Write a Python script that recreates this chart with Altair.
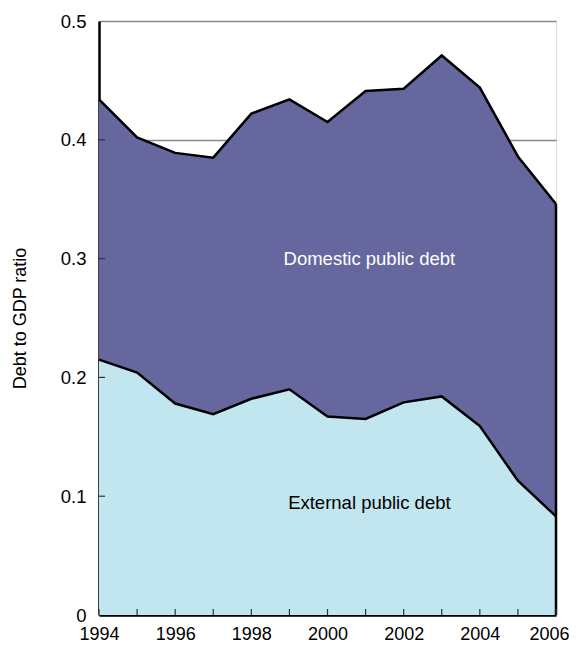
import altair as alt
import pandas as pd

years = list(range(1994, 2007))
external = [0.215, 0.204, 0.178, 0.169, 0.182, 0.190, 0.167, 0.165, 0.179, 0.184, 0.159, 0.113, 0.083]
domestic = [0.219, 0.198, 0.211, 0.216, 0.240, 0.244, 0.248, 0.276, 0.264, 0.287, 0.285, 0.273, 0.263]
y_ticks = [0.0, 0.1, 0.2, 0.3, 0.4, 0.5]
x_labels = [1994, 1996, 1998, 2000, 2002, 2004, 2006]
labels = ["Domestic public debt", "External public debt"]
label_year = [2001.1, 2001.1]
label_value = [0.300, 0.094]
label_color = ["white", "black"]

df = pd.DataFrame({"year": years, "external": external, "domestic": domestic})
df["total"] = df["external"] + df["domestic"]
df["zero"] = 0.0

FONT = "Liberation Sans"

x_scale = alt.Scale(domain=[1994, 2006], nice=False, zero=False)
y_scale = alt.Scale(domain=[0, 0.5], nice=False)

x_enc = alt.X("year:Q", scale=x_scale,
              axis=alt.Axis(values=x_labels, format="d", ticks=False, grid=False,
                            title=None, labelFontSize=18, labelPadding=10, labelFlush=False,
                            labelOverlap=False,
                            labelOffset={"condition": {"test": "datum.value == 2006", "value": -7}, "value": 0},
                            domainColor="black", domainWidth=2.5, labelColor="black",
                            labelFont=FONT))

base = alt.Chart(df)

ext_area = base.mark_area(color="#C2E6EF", opacity=1).encode(
    x=x_enc,
    y=alt.Y("external:Q", scale=y_scale,
            axis=alt.Axis(values=y_ticks, ticks=False, grid=True, gridColor="#888888",
                          gridWidth=1.5, title="Debt to GDP ratio", titleFontSize=18,
                          titleFontWeight="normal", titleFont=FONT, titlePadding=31,
                          labelFontSize=18.5, labelPadding=13, labelFont=FONT,
                          labelColor="black", titleColor="black",
                          domainColor="black", domainWidth=2.5,
                          labelExpr="datum.value == 0 ? '0' : format(datum.value, '.1f')")),
)
dom_area = base.mark_area(color="#65679E", opacity=1).encode(
    x="year:Q", y="external:Q", y2="total:Q"
)
ext_line = base.mark_line(color="black", strokeWidth=2.5).encode(x="year:Q", y="external:Q")
tot_line = base.mark_line(color="black", strokeWidth=2.5).encode(x="year:Q", y="total:Q")
right_edge = alt.Chart(df[df["year"] == 2006]).mark_rule(color="black", strokeWidth=2.5).encode(
    x="year:Q", y="zero:Q", y2="total:Q"
)

xt = pd.DataFrame({"year": years})
x_ticks = alt.Chart(xt).mark_rule(color="#333333", strokeWidth=1.2).encode(
    x="year:Q", y=alt.value(594), y2=alt.value(588)
)
yt = pd.DataFrame({"v": [0.1, 0.2, 0.3, 0.4]})
y_ticks_l = alt.Chart(yt).mark_rule(color="#333333", strokeWidth=1.2).encode(
    y=alt.Y("v:Q", scale=y_scale), x=alt.value(0), x2=alt.value(6)
)

lab_df = pd.DataFrame({"year": label_year, "value": label_value, "text": labels, "c": label_color})
texts = alt.Chart(lab_df).mark_text(fontSize=18.5, font=FONT, align="center", baseline="middle").encode(
    x="year:Q", y="value:Q", text="text:N",
    color=alt.Color("c:N", scale=None)
)

chart = alt.layer(ext_area, dom_area, ext_line, tot_line, right_edge, x_ticks, y_ticks_l, texts).properties(
    width=457, height=594,
    autosize=alt.AutoSizeParams(type="none"),
    padding={"left": 91, "top": 13, "right": 13, "bottom": 29},
).configure_view(stroke="#999999", strokeWidth=2).configure(background="white")

chart.save("out.html", embed_options={"renderer": "svg", "actions": False})
